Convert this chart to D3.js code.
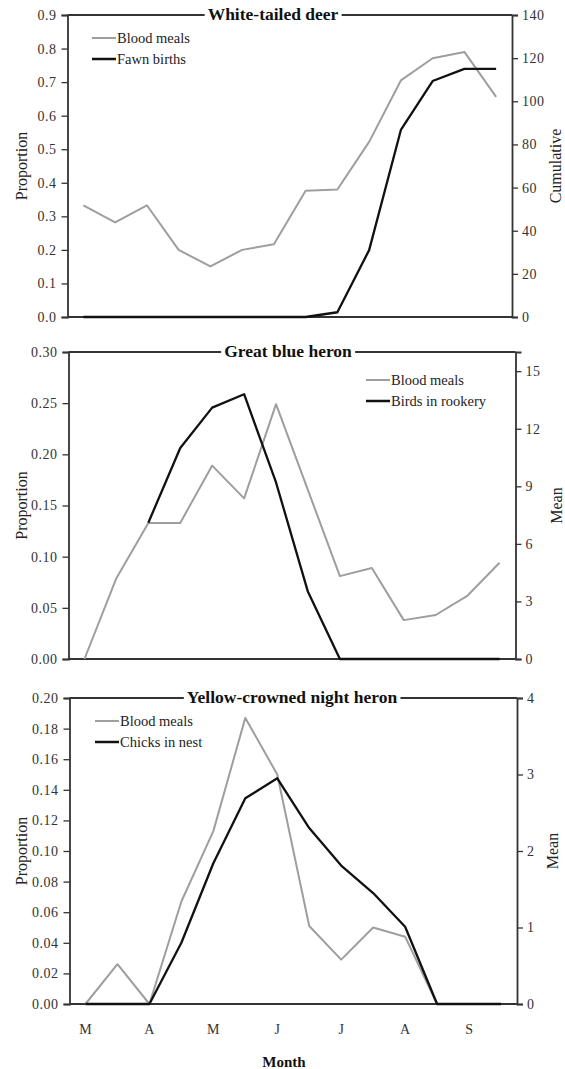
<!DOCTYPE html>
<html>
<head>
<meta charset="utf-8">
<script src="https://cdn.jsdelivr.net/npm/d3@7"></script>
<style>
  body { margin: 0; background: #fff; }
  svg { display: block; font-family: "Liberation Serif", "DejaVu Serif", serif; }
</style>
</head>
<body>
<div id="chart"></div>
<script>
// half-month periods, March to September
const periods = ["Mar1","Mar2","Apr1","Apr2","May1","May2","Jun1","Jun2","Jul1","Jul2","Aug1","Aug2","Sep1","Sep2"];
const monthLabels = ["M","A","M","J","J","A","S"];

// white-tailed deer
const deerBlood = [0.333, 0.282, 0.333, 0.200, 0.151, 0.200, 0.217, 0.376, 0.380, 0.522, 0.705, 0.771, 0.790, 0.656];
const deerFawns = [0, 0, 0, 0, 0, 0, 0, 0, 2.2, 31, 86.7, 109.4, 115, 115];

// great blue heron
const gbhBlood = [0, 0.079, 0.133, 0.133, 0.189, 0.157, 0.249, 0.165, 0.081, 0.089, 0.038, 0.043, 0.062, 0.094];
const gbhBirds = [null, null, 7.1, 11.0, 13.1, 13.8, 9.2, 3.5, 0, 0, 0, 0, 0, 0];

// yellow-crowned night heron
const ycnhBlood = [0, 0.026, 0, 0.067, 0.113, 0.187, 0.150, 0.051, 0.029, 0.050, 0.044, 0, 0, 0];
const ycnhChicks = [0, 0, 0, 0.80, 1.84, 2.69, 2.95, 2.30, 1.81, 1.45, 1.01, 0, 0, 0];

const W = 565, H = 1069;
const GRAY = "#9e9e9e", BLACK = "#111", AXIS = "#333";

const svg = d3.select("#chart").append("svg")
    .attr("width", W).attr("height", H);

const panels = [
    {
        title: "White-tailed deer", titleX: 273,
        top: 15, bottom: 317, left: 67.5, right: 512,
        leftMax: 0.9, leftTicks: d3.range(0, 0.91, 0.1), leftFmt: d3.format(".1f"),
        rightMax: 140, rightTicks: d3.range(0, 141, 20), rightLabel: "Cumulative", rightLabelX: 555,
        blood: deerBlood, other: deerFawns, otherName: "Fawn births",
        legendX: 92, legendY: 38
    },
    {
        title: "Great blue heron", titleX: 288,
        top: 352, bottom: 659, left: 68.5, right: 515.5,
        leftMax: 0.30, leftTicks: d3.range(0, 0.301, 0.05), leftFmt: d3.format(".2f"),
        rightMax: 16, rightTicks: d3.range(0, 16, 3), rightLabel: "Mean", rightLabelX: 556,
        blood: gbhBlood, other: gbhBirds, otherName: "Birds in rookery",
        legendX: 366, legendY: 380
    },
    {
        title: "Yellow-crowned night heron", titleX: 292,
        top: 698, bottom: 1004, left: 69.5, right: 517,
        leftMax: 0.20, leftTicks: d3.range(0, 0.201, 0.02), leftFmt: d3.format(".2f"),
        rightMax: 4, rightTicks: d3.range(0, 5, 1), rightLabel: "Mean", rightLabelX: 552,
        blood: ycnhBlood, other: ycnhChicks, otherName: "Chicks in nest",
        legendX: 95, legendY: 721
    }
];

panels.forEach((p, pi) => {
    const g = svg.append("g");

    const x = d3.scaleBand().domain(periods).range([p.left, p.right]);
    const cx = d => x(d) + x.bandwidth() / 2;
    const yL = d3.scaleLinear().domain([0, p.leftMax]).range([p.bottom, p.top]);
    const yR = d3.scaleLinear().domain([0, p.rightMax]).range([p.bottom, p.top]);

    // axes
    const axL = g.append("g")
        .attr("transform", `translate(${p.left},0)`)
        .call(d3.axisLeft(yL).tickValues(p.leftTicks).tickFormat(p.leftFmt).tickSizeOuter(0).tickSize(6));
    const axR = g.append("g")
        .attr("transform", `translate(${p.right},0)`)
        .call(d3.axisRight(yR).tickValues(p.rightTicks).tickFormat(d3.format("d")).tickSizeOuter(0).tickSize(6));
    [axL, axR].forEach(a => {
        a.select(".domain").attr("stroke", AXIS).attr("stroke-width", 1.8);
        a.selectAll(".tick line").attr("stroke", AXIS).attr("stroke-width", 1.3);
        a.selectAll(".tick text").attr("fill", "#333").style("font-size", "14px")
            .style("font-family", "Liberation Serif").style("letter-spacing", "0.5px");
    });
    axL.selectAll(".tick text").attr("x", -11);
    axR.selectAll(".tick text").attr("x", 10);

    // bottom + top frame
    g.append("line").attr("x1", p.left).attr("x2", p.right)
        .attr("y1", p.bottom).attr("y2", p.bottom)
        .attr("stroke", AXIS).attr("stroke-width", 1.8);
    g.append("line").attr("x1", p.left).attr("x2", p.right)
        .attr("y1", p.top).attr("y2", p.top)
        .attr("stroke", AXIS).attr("stroke-width", 1.8);

    // axis titles
    g.append("text")
        .attr("transform", `translate(21,${(p.top + p.bottom) / 2}) rotate(-90)`)
        .attr("text-anchor", "middle").attr("dy", "0.35em")
        .style("font-size", "16px").attr("fill", "#222")
        .text("Proportion");
    g.append("text")
        .attr("transform", `translate(${p.rightLabelX},${(p.top + p.bottom) / 2}) rotate(-90)`)
        .attr("text-anchor", "middle").attr("dy", "0.35em")
        .style("font-size", "16px").attr("fill", "#222")
        .text(p.rightLabel);

    // series (black on top)
    const lineL = d3.line().defined(d => d !== null)
        .x((d, i) => cx(periods[i])).y(d => yL(d));
    const lineR = d3.line().defined(d => d !== null)
        .x((d, i) => cx(periods[i])).y(d => yR(d));

    g.append("path").datum(p.blood)
        .attr("fill", "none").attr("stroke", GRAY).attr("stroke-width", 2)
        .attr("stroke-linejoin", "round")
        .attr("d", lineL);
    g.append("path").datum(p.other)
        .attr("fill", "none").attr("stroke", BLACK).attr("stroke-width", 2.3)
        .attr("stroke-linejoin", "round")
        .attr("d", lineR);

    // title with white knockout over top frame
    const knock = g.append("rect").attr("fill", "#fff");
    const t = g.append("text")
        .attr("x", p.titleX).attr("y", p.top).attr("dy", "0.3em")
        .attr("text-anchor", "middle")
        .style("font-size", "17.5px").style("font-weight", "bold").attr("fill", "#111")
        .text(p.title);
    const bb = t.node().getBBox();
    knock.attr("x", bb.x - 3).attr("y", p.top - 3)
        .attr("width", bb.width + 6).attr("height", 6);

    // legend
    const leg = [
        { name: "Blood meals", color: GRAY, w: 2 },
        { name: p.otherName, color: BLACK, w: 2.5 }
    ];
    leg.forEach((l, li) => {
        const ly = p.legendY + li * 21;
        g.append("line").attr("x1", p.legendX).attr("x2", p.legendX + 24)
            .attr("y1", ly).attr("y2", ly)
            .attr("stroke", l.color).attr("stroke-width", l.w);
        g.append("text").attr("x", p.legendX + 25).attr("y", ly).attr("dy", "0.35em")
            .style("font-size", "14.5px").attr("fill", "#222")
            .text(l.name);
    });

    // month labels on the bottom panel only
    if (pi === panels.length - 1) {
        g.selectAll(".month").data(monthLabels).join("text")
            .attr("class", "month")
            .attr("x", (d, i) => cx(periods[i * 2]))
            .attr("y", 1029).attr("dy", "0.35em")
            .attr("text-anchor", "middle")
            .style("font-size", "14px").attr("fill", "#333")
            .text(d => d);
        g.append("text")
            .attr("x", 284).attr("y", 1062).attr("dy", "0.35em")
            .attr("text-anchor", "middle")
            .style("font-size", "15px").style("font-weight", "bold").attr("fill", "#111")
            .text("Month");
    }
});
</script>
</body>
</html>
